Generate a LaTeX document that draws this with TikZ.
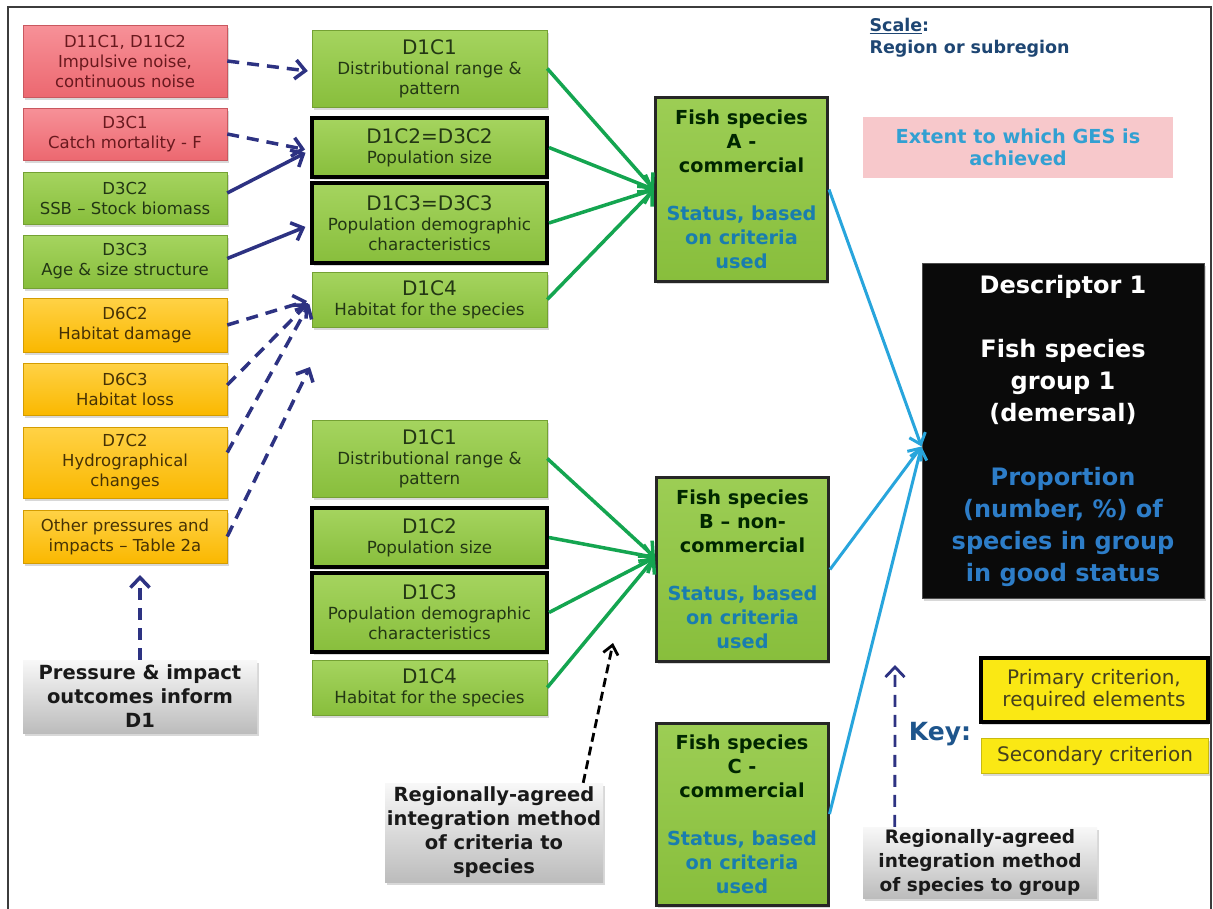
\documentclass[tikz,border=0pt]{standalone}
\usepackage{fontspec}
\setmainfont{DejaVu Sans}
\usetikzlibrary{arrows.meta,shadows,calc}

% box fills
\definecolor{redT}{RGB}{247,145,152}
\definecolor{redB}{RGB}{236,104,112}
\definecolor{redTxt}{RGB}{105,25,30}
\definecolor{grnT}{RGB}{165,212,95}
\definecolor{grnB}{RGB}{136,190,60}
\definecolor{grnTxt}{RGB}{35,55,20}
\definecolor{orgT}{RGB}{255,210,70}
\definecolor{orgB}{RGB}{250,184,0}
\definecolor{orgTxt}{RGB}{70,50,5}
\definecolor{gryT}{RGB}{248,248,248}
\definecolor{gryB}{RGB}{188,188,188}
\definecolor{keyYel}{RGB}{250,232,20}
\definecolor{keyTxt}{RGB}{70,65,30}
\definecolor{pinkFill}{RGB}{247,200,203}
% text and line colours
\definecolor{gesBlue}{RGB}{50,160,210}
\definecolor{statusBlue}{RGB}{25,125,175}
\definecolor{propBlue}{RGB}{45,125,200}
\definecolor{scaleBlue}{RGB}{30,70,115}
\definecolor{keyBlue}{RGB}{30,85,140}
\definecolor{navy}{RGB}{45,50,130}
\definecolor{arrGreen}{RGB}{20,165,80}
\definecolor{arrCyan}{RGB}{40,165,220}
\definecolor{frameGray}{RGB}{60,60,60}

\tikzset{
  base/.style={rectangle, align=center, inner sep=0pt,
    drop shadow={shadow xshift=1.5pt, shadow yshift=-2.5pt, opacity=0.3}},
  redbox/.style={base, top color=redT, bottom color=redB, draw=redB!85!black, line width=0.5pt,
    text=redTxt, font=\fontsize{16.5}{20}\selectfont, minimum width=204pt},
  grnbox/.style={base, top color=grnT, bottom color=grnB, draw=grnB!85!black, line width=0.5pt,
    text=grnTxt, font=\fontsize{16.5}{20}\selectfont, minimum width=204pt},
  orgbox/.style={base, top color=orgT, bottom color=orgB, draw=orgB!85!black, line width=0.5pt,
    text=orgTxt, font=\fontsize{16.5}{20}\selectfont, minimum width=204pt},
  critbox/.style={base, top color=grnT, bottom color=grnB, draw=grnB!85!black, line width=0.5pt,
    text=grnTxt, font=\fontsize{16.7}{20}\selectfont, minimum width=235pt},
  primary/.style={draw=black, line width=4pt},
  fishbox/.style={base, top color=grnT!70!grnB, bottom color=grnB, draw=black!85, line width=3pt,
    text=black!85!green, font=\bfseries\fontsize{19.3}{24}\selectfont,
    minimum width=172pt, minimum height=184pt},
  graybox/.style={base, top color=gryT, bottom color=gryB, text=black!90,
    font=\bfseries\fontsize{19.5}{24}\selectfont},
  keybox/.style={base, fill=keyYel, text=keyTxt, font=\fontsize{20}{22}\selectfont,
    minimum width=227pt},
  navyarr/.style={draw=navy, line width=3.5pt, -{Straight Barb[length=10pt,width=19pt]}},
  dashes/.style={dash pattern=on 12pt off 8pt},
  greenarr/.style={draw=arrGreen, line width=3.5pt, -{Straight Barb[length=11pt,width=21pt]}},
  cyanarr/.style={draw=arrCyan, line width=3pt, -{Straight Barb[length=10pt,width=17pt]}},
}

\begin{document}
\begin{tikzpicture}[x=1pt, y=-1pt]
\useasboundingbox (0,0) rectangle (1213,908);
\fill[white] (0,0) rectangle (1213,908);
\draw[frameGray, line width=1.5pt] (8,912) -- (8,7) -- (1211,7) -- (1211,912);

% pressures and state criteria (left column)
\node[redbox, minimum height=72pt] (n11) at (125,61) {D11C1, D11C2\\Impulsive noise,\\continuous noise};
\node[redbox, minimum height=52pt] (d3c1) at (125,134) {D3C1\\Catch mortality - F};
\node[grnbox, minimum height=52pt] (d3c2) at (125,198) {D3C2\\SSB – Stock biomass};
\node[grnbox, minimum height=53pt] (d3c3) at (125,261.5) {D3C3\\Age \& size structure};
\node[orgbox, minimum height=54pt] (d6c2) at (125,325) {D6C2\\Habitat damage};
\node[orgbox, minimum height=52pt] (d6c3) at (125,389) {D6C3\\Habitat loss};
\node[orgbox, minimum height=71pt] (d7c2) at (125,462.5) {D7C2\\Hydrographical\\changes};
\node[orgbox, minimum height=53pt] (oth) at (125,536.5) {Other pressures and\\impacts – Table 2a};
\node[graybox, minimum width=234pt, minimum height=73pt] (press) at (140,696.5) {Pressure \& impact\\outcomes inform\\D1};

% D1 criteria, species A
\node[critbox, minimum height=77pt] (c1a) at (429.5,68.5) {{\fontsize{20}{20}\selectfont D1C1}\\Distributional range \&\\pattern};
\node[critbox, primary, minimum height=59pt] (c2a) at (429.5,147.5) {{\fontsize{20}{20}\selectfont D1C2=D3C2}\\Population size};
\node[critbox, primary, minimum height=80pt] (c3a) at (429.5,223) {{\fontsize{20}{20}\selectfont D1C3=D3C3}\\Population demographic\\characteristics};
\node[critbox, minimum height=55pt] (c4a) at (429.5,299.5) {{\fontsize{20}{20}\selectfont D1C4}\\Habitat for the species};

% D1 criteria, species B
\node[critbox, minimum height=77pt] (c1b) at (429.5,458.5) {{\fontsize{20}{20}\selectfont D1C1}\\Distributional range \&\\pattern};
\node[critbox, primary, minimum height=59pt] (c2b) at (429.5,537.5) {{\fontsize{20}{20}\selectfont D1C2}\\Population size};
\node[critbox, primary, minimum height=79pt] (c3b) at (429.5,612.5) {{\fontsize{20}{20}\selectfont D1C3}\\Population demographic\\characteristics};
\node[critbox, minimum height=55pt] (c4b) at (429.5,687.5) {{\fontsize{20}{20}\selectfont D1C4}\\Habitat for the species};

% species
\node[fishbox] (spA) at (741.5,189.5) {Fish species\\A -\\commercial\\[24pt]\textcolor{statusBlue}{Status, based}\\\textcolor{statusBlue}{on criteria}\\\textcolor{statusBlue}{used}};
\node[fishbox] (spB) at (742.5,569.5) {Fish species\\B – non-\\commercial\\[24pt]\textcolor{statusBlue}{Status, based}\\\textcolor{statusBlue}{on criteria}\\\textcolor{statusBlue}{used}};
\node[fishbox, minimum height=182pt] (spC) at (742,814) {Fish species\\C -\\commercial\\[24pt]\textcolor{statusBlue}{Status, based}\\\textcolor{statusBlue}{on criteria}\\\textcolor{statusBlue}{used}};

% descriptor
\node[base, fill=black!96, draw=black!70, line width=1pt, minimum width=282pt, minimum height=335pt,
      text=white, font=\bfseries\fontsize{24}{32}\selectfont] (desc) at (1063,430.5)
  {Descriptor 1\\[32pt]Fish species\\group 1\\(demersal)\\[32pt]\textcolor{propBlue}{Proportion}\\\textcolor{propBlue}{(number, \%) of}\\\textcolor{propBlue}{species in group}\\\textcolor{propBlue}{in good status}};

% scale, GES, key
\node[anchor=west, align=left, text=scaleBlue, font=\bfseries\fontsize{17.5}{22}\selectfont] (scale) at (866,38)
  {\underline{Scale}:\\Region or subregion};
\node[rectangle, fill=pinkFill, align=center, inner sep=0pt, minimum width=310pt, minimum height=61pt,
      text=gesBlue, font=\bfseries\fontsize{19.3}{22}\selectfont] (ges) at (1018,147.5)
  {Extent to which GES is\\achieved};
\node[text=keyBlue, font=\bfseries\fontsize{25}{28}\selectfont] (key) at (940,734) {Key:};
\node[keybox, primary, minimum height=64pt] (kprim) at (1094,690) {Primary criterion,\\required elements};
\node[keybox, draw=keyYel!80!black, line width=0.5pt, minimum height=35pt] (ksec) at (1095,755.5) {Secondary criterion};

% integration methods
\node[graybox, minimum width=218pt, minimum height=99pt] (gmid) at (494,832.5)
  {Regionally-agreed\\integration method\\of criteria to\\species};
\node[graybox, font=\bfseries\fontsize{18.5}{24}\selectfont, minimum width=234pt, minimum height=71pt] (gbr) at (980,862.5)
  {Regionally-agreed\\integration method\\of species to group};

% free ends of the open arrows
\coordinate (othTip) at (310,367);
\coordinate (pressTip) at (140,575);
\coordinate (midTip) at (613,643);
\coordinate (brTip) at (895,665);

% pressures into criteria
\draw[navyarr, dashes, shorten >=4pt] (n11.east) -- ($(c1a.west)+(0,3)$);
\draw[navyarr, dashes, shorten >=5pt] (d3c1.east) -- ($(c2a.west)+(0,3)$);
\draw[navyarr, shorten >=5pt] ($(d3c2.east)+(0,-5)$) -- ($(c2a.west)+(0,3)$);
\draw[navyarr, shorten >=5pt] ($(d3c3.east)+(0,-3)$) -- ($(c3a.west)+(0,2)$);
\draw[navyarr, dashes, shorten >=5pt] (d6c2.east) -- (c4a.west);
\draw[navyarr, dashes, shorten >=5pt] ($(d6c3.east)+(0,-4)$) -- (c4a.west);
\draw[navyarr, dashes, shorten >=5pt] ($(d7c2.east)+(0,-10)$) -- (c4a.west);
\draw[navyarr, dashes] (oth.east) -- (othTip);
\draw[navyarr, dashes] (press.north) -- (pressTip);

% criteria into species
\foreach \c in {c1a,c2a,c3a,c4a}
  \draw[greenarr] (\c.east) -- (spA.west);
\foreach \c in {c1b,c2b,c3b,c4b}
  \draw[greenarr] (\c.east) -- ($(spB.west)+(0,-12)$);

% species into descriptor
\foreach \s in {spA,spB,spC}
  \draw[cyanarr] (\s.east) -- ($(desc.west)+(0,16)$);

% integration method pointers
\draw[line width=2.8pt, dash pattern=on 9pt off 5pt, -{Straight Barb[length=9pt,width=15pt]}]
  ($(gmid.north east)+(-20,0)$) -- (midTip);
\draw[navyarr, dashes, line width=2.8pt] ($(gbr.north west)+(32,0)$) -- (brTip);
\end{tikzpicture}
\end{document}
